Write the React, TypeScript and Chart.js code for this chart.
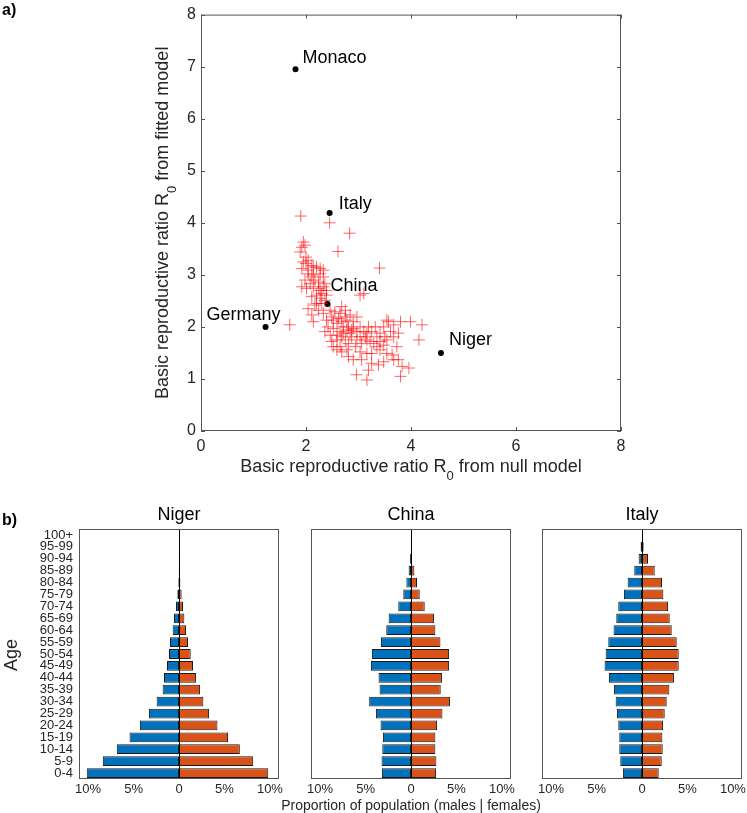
import React, { useEffect, useRef } from "react";
import { Chart, registerables } from "chart.js";

Chart.register(...registerables);

const FONT = "'Liberation Sans', Arial, Helvetica, sans-serif";
const TXT = "#262626";
const BOX = "#555555";

// ---------- Panel a) data ----------
const nullR0 = [
  1.9, 2.45, 2.83, 2.61, 3.4, 1.95, 1.92, 1.98, 1.89, 2.0, 2.0, 1.92, 2.11, 2.2, 2.04, 2.27, 2.33, 2.14,
  1.98, 2.08, 2.01, 1.92, 2.14, 2.24, 2.33, 2.39, 2.3, 2.2, 2.11, 2.27, 2.36, 3.1, 3.03, 2.04, 2.17, 2.24,
  2.11, 2.33, 2.39, 2.14, 2.68, 2.75, 2.65, 2.84, 2.78, 2.9, 2.97, 2.59, 2.71, 2.52, 2.65, 2.78, 2.84, 2.9,
  3.03, 3.1, 3.19, 3.25, 2.68, 2.75, 2.59, 2.49, 2.81, 2.97, 3.06, 3.16, 3.29, 3.41, 3.54, 3.67, 3.61, 3.48,
  3.57, 3.67, 3.8, 3.99, 4.21, 4.15, 3.76, 2.59, 2.78, 2.94, 2.9, 3.06, 3.16, 3.25, 3.41, 3.54, 3.64, 3.38,
  3.67, 3.76, 3.96, 3.83, 3.8, 2.96, 3.16, 3.19, 1.69,
  2.46, 2.49, 2.55, 2.42, 2.36, 2.46, 2.59, 2.71, 2.87, 3.03, 3.13, 3.41, 3.48, 3.35, 2.65, 2.81, 3.03, 3.54,
  3.32, 2.17, 2.24, 2.11, 2.04, 1.95, 2.04, 2.14, 2.27, 2.33, 2.36, 2.27, 2.39, 2.3, 2.2, 2.52, 2.62, 2.68,
  2.75, 2.81, 2.87, 2.97, 3.16, 3.22, 3.35, 3.5, 3.73, 3.25, 3.48, 2.68, 2.52,
];
const fittedR0 = [
  4.13, 4.0, 3.8, 3.45, 3.13, 3.63, 3.53, 3.57, 3.44, 3.34, 3.22, 3.12, 3.18, 3.15, 3.09, 3.02, 3.09, 3.0,
  2.9, 2.83, 2.74, 2.77, 2.77, 2.74, 2.77, 2.7, 2.64, 2.61, 2.58, 2.55, 2.51, 2.64, 2.61, 2.35, 2.42, 2.32,
  2.23, 2.26, 2.13, 2.1, 2.39, 2.32, 2.26, 2.23, 2.13, 2.1, 2.19, 2.07, 2.0, 1.97, 1.91, 1.94, 1.88, 1.97,
  2.0, 1.91, 2.0, 1.91, 1.81, 1.75, 1.75, 1.72, 1.68, 1.75, 1.68, 1.75, 1.68, 1.72, 1.75, 1.81, 1.91, 2.0,
  2.1, 2.04, 2.1, 2.1, 2.04, 1.75, 1.88, 1.56, 1.56, 1.62, 1.37, 1.37, 1.49, 1.3, 1.56, 1.49, 1.46, 1.27,
  1.37, 1.37, 1.21, 1.24, 1.05, 1.08, 0.98, 1.17, 2.04,
  2.32, 2.19, 2.29, 2.0, 1.91, 1.84, 1.84, 1.88, 1.81, 1.81, 1.81, 1.88, 1.65, 1.62, 1.62, 1.43, 1.52, 2.13,
  2.0, 2.9, 2.86, 2.96, 3.02, 3.25, 3.28, 3.15, 3.12, 2.96, 2.83, 2.7, 2.61, 2.45, 2.45, 2.13, 2.16, 2.1,
  2.19, 2.0, 1.94, 1.91, 1.88, 1.72, 1.81, 1.81, 1.62, 1.49, 1.33, 1.52, 1.62,
];
const namedCountries = ["Monaco", "Italy", "China", "Germany", "Niger"];
const namedNull = [1.8, 2.45, 2.41, 1.23, 4.57];
const namedFitted = [6.95, 4.19, 2.44, 2.0, 1.5];
const r0Ticks = [0, 1, 2, 3, 4, 5, 6, 7, 8];
const r0XTicks = [0, 2, 4, 6, 8];

// label placement (style only)
const labelPlace = [
  { dx: 7, dy: -11, align: "left" },
  { dx: 9, dy: -9, align: "left" },
  { dx: 3, dy: -18, align: "left" },
  { dx: 15, dy: -12, align: "right" },
  { dx: 8, dy: -13, align: "left" },
];

// ---------- Panel b) data (percent of population) ----------
const ageGroups = [
  "0-4", "5-9", "10-14", "15-19", "20-24", "25-29", "30-34", "35-39", "40-44", "45-49", "50-54",
  "55-59", "60-64", "65-69", "70-74", "75-79", "80-84", "85-89", "90-94", "95-99", "100+",
];
const nigerMales = [10.15, 8.38, 6.84, 5.44, 4.3, 3.31, 2.46, 1.8, 1.65, 1.32, 1.1, 0.99, 0.7, 0.55, 0.33, 0.18, 0.07, 0.03, 0.01, 0, 0];
const nigerFemales = [9.82, 8.16, 6.69, 5.4, 4.23, 3.31, 2.68, 2.32, 1.88, 1.54, 1.29, 0.99, 0.77, 0.59, 0.44, 0.29, 0.15, 0.04, 0.01, 0, 0];
const chinaMales = [3.2, 3.24, 3.16, 3.09, 3.35, 3.86, 4.6, 3.46, 3.57, 4.41, 4.3, 3.31, 2.72, 2.46, 1.4, 0.85, 0.51, 0.26, 0.1, 0.02, 0];
const chinaFemales = [2.76, 2.79, 2.68, 2.68, 2.87, 3.46, 4.3, 3.27, 3.42, 4.19, 4.19, 3.24, 2.68, 2.54, 1.51, 0.96, 0.66, 0.37, 0.12, 0.03, 0];
const italyMales = [2.1, 2.39, 2.5, 2.5, 2.61, 2.76, 2.9, 3.09, 3.64, 4.12, 4.0, 3.71, 3.13, 2.83, 2.61, 1.99, 1.58, 0.85, 0.37, 0.15, 0.01];
const italyFemales = [1.84, 2.17, 2.28, 2.24, 2.32, 2.5, 2.72, 3.01, 3.53, 4.04, 4.04, 3.82, 3.27, 3.05, 2.87, 2.35, 2.2, 1.4, 0.66, 0.18, 0.03];
const pctTicks = [-10, -5, 0, 5, 10];

const MALE = "#0072BD";
const FEMALE = "#D95319";

function drawSubscriptText(
  ctx: CanvasRenderingContext2D,
  pre: string,
  sub: string,
  post: string,
  cx: number,
  cy: number,
  rotate: boolean,
  size: number
) {
  ctx.save();
  ctx.translate(cx, cy);
  if (rotate) ctx.rotate(-Math.PI / 2);
  const main = `${size}px ${FONT}`;
  const small = `${Math.round(size * 0.72)}px ${FONT}`;
  ctx.font = main;
  const w1 = ctx.measureText(pre).width;
  const w3 = ctx.measureText(post).width;
  ctx.font = small;
  const w2 = ctx.measureText(sub).width;
  let x = -(w1 + w2 + w3) / 2;
  ctx.fillStyle = TXT;
  ctx.textBaseline = "middle";
  ctx.textAlign = "left";
  ctx.font = main;
  ctx.fillText(pre, x, 0);
  x += w1;
  ctx.font = small;
  ctx.fillText(sub, x, size * 0.55);
  x += w2;
  ctx.font = main;
  ctx.fillText(post, x, 0);
  ctx.restore();
}

const topDecor = {
  id: "topDecor",
  beforeDatasetsDraw(chart: any) {
    const { ctx, chartArea: a, scales } = chart;
    const x = scales.x;
    const y = scales.y;
    ctx.save();
    ctx.strokeStyle = BOX;
    ctx.lineWidth = 1;
    ctx.strokeRect(a.left + 0.5, a.top + 0.5, a.right - a.left - 1, a.bottom - a.top - 1);
    ctx.beginPath();
    r0XTicks.forEach((v) => {
      const px = Math.round(x.getPixelForValue(v)) + 0.5;
      ctx.moveTo(px, a.bottom);
      ctx.lineTo(px, a.bottom - 4);
      ctx.moveTo(px, a.top);
      ctx.lineTo(px, a.top + 4);
    });
    r0Ticks.forEach((v) => {
      const py = Math.round(y.getPixelForValue(v)) + 0.5;
      ctx.moveTo(a.left, py);
      ctx.lineTo(a.left + 4, py);
      ctx.moveTo(a.right, py);
      ctx.lineTo(a.right - 4, py);
    });
    ctx.stroke();
    ctx.restore();
  },
  afterDraw(chart: any) {
    const { ctx, chartArea: a, scales } = chart;
    const x = scales.x;
    const y = scales.y;
    drawSubscriptText(ctx, "Basic reproductive ratio R", "0", " from null model", (a.left + a.right) / 2, 467, false, 18);
    drawSubscriptText(ctx, "Basic reproductive ratio R", "0", " from fitted model", 163, (a.top + a.bottom) / 2, true, 18);
    ctx.save();
    ctx.fillStyle = "#000";
    ctx.font = `18px ${FONT}`;
    ctx.textBaseline = "middle";
    namedCountries.forEach((name, i) => {
      const px = x.getPixelForValue(namedNull[i]);
      const py = y.getPixelForValue(namedFitted[i]);
      const p = labelPlace[i];
      ctx.textAlign = p.align as CanvasTextAlign;
      ctx.fillText(name, px + p.dx, py + p.dy);
    });
    ctx.restore();
  },
};

function TopChart() {
  const ref = useRef<HTMLCanvasElement>(null);
  useEffect(() => {
    const chart = new Chart(ref.current as HTMLCanvasElement, {
      type: "scatter",
      data: {
        datasets: [
          {
            data: nullR0.map((v, i) => ({ x: v, y: fittedR0[i] })),
            pointStyle: "cross",
            radius: 6,
            borderColor: "rgba(255,0,0,0.6)",
            backgroundColor: "rgba(255,0,0,0.6)",
            borderWidth: 1,
          },
          {
            data: namedNull.map((v, i) => ({ x: v, y: namedFitted[i] })),
            pointStyle: "circle",
            radius: 3,
            backgroundColor: "#000",
            borderColor: "#000",
            borderWidth: 0,
          },
        ],
      },
      options: {
        responsive: false,
        animation: false,
        devicePixelRatio: 1,
        events: [],
        layout: { padding: { top: 14, right: 126, left: 0, bottom: 0 } },
        plugins: { legend: { display: false }, tooltip: { enabled: false } },
        scales: {
          x: {
            type: "linear",
            min: 0,
            max: 8,
            afterBuildTicks: (s: any) => {
              s.ticks = r0XTicks.map((v) => ({ value: v }));
            },
            afterFit: (s: any) => {
              s.height = 49;
            },
            grid: { display: false, drawTicks: false },
            border: { display: false },
            ticks: { padding: 6, color: TXT, font: { family: FONT, size: 16 }, maxRotation: 0 },
          },
          y: {
            type: "linear",
            min: 0,
            max: 8,
            afterBuildTicks: (s: any) => {
              s.ticks = r0Ticks.map((v) => ({ value: v }));
            },
            afterFit: (s: any) => {
              s.width = 201;
            },
            grid: { display: false, drawTicks: false },
            border: { display: false },
            ticks: { padding: 5, color: TXT, font: { family: FONT, size: 16 } },
          },
        },
      } as any,
      plugins: [topDecor],
    });
    return () => chart.destroy();
  }, []);
  return <canvas ref={ref} width={747} height={480} style={{ position: "absolute", left: 0, top: 0 }} />;
}

function Pyramid(props: {
  title: string;
  males: number[];
  females: number[];
  left: number;
  width: number;
  plotLeft: number;
  plotRight: number;
  showAges: boolean;
}) {
  const ref = useRef<HTMLCanvasElement>(null);
  const { title, males, females, left, width, plotLeft, plotRight, showAges } = props;
  useEffect(() => {
    const deco = {
      id: "pyrDecor",
      afterDatasetsDraw(chart: any) {
        const { ctx, chartArea: a, scales } = chart;
        const xs = scales.x;
        const px0 = Math.round(xs.getPixelForValue(0)) + 0.5;
        ctx.save();
        ctx.strokeStyle = "#000";
        ctx.lineWidth = 1;
        ctx.beginPath();
        ctx.moveTo(px0, a.top);
        ctx.lineTo(px0, a.bottom);
        ctx.stroke();
        ctx.strokeStyle = BOX;
        ctx.strokeRect(a.left + 0.5, a.top + 0.5, a.right - a.left - 1, a.bottom - a.top - 1);
        // x tick labels
        ctx.fillStyle = TXT;
        ctx.font = `13px ${FONT}`;
        ctx.textAlign = "center";
        ctx.textBaseline = "middle";
        pctTicks.forEach((v) => {
          const label = v === 0 ? "0" : `${Math.abs(v)}%`;
          ctx.fillText(label, xs.getPixelForValue(v), a.bottom + 10);
        });
        // title
        ctx.fillStyle = "#000";
        ctx.font = `18px ${FONT}`;
        ctx.fillText(title, (a.left + a.right) / 2, 25);
        if (showAges) {
          ctx.translate(12, 165);
          ctx.rotate(-Math.PI / 2);
          ctx.fillStyle = TXT;
          ctx.fillText("Age", 0, 0);
        }
        ctx.restore();
      },
    };
    const chart = new Chart(ref.current as HTMLCanvasElement, {
      type: "bar",
      data: {
        labels: ageGroups,
        datasets: [
          {
            label: "Males",
            data: males.map((v) => -v),
            backgroundColor: MALE,
            borderColor: "#1a1a1a",
            borderWidth: 1,
            borderSkipped: false,
            barPercentage: 0.82,
            categoryPercentage: 1,
          },
          {
            label: "Females",
            data: females,
            backgroundColor: FEMALE,
            borderColor: "#1a1a1a",
            borderWidth: 1,
            borderSkipped: false,
            barPercentage: 0.82,
            categoryPercentage: 1,
          },
        ],
      },
      options: {
        indexAxis: "y",
        responsive: false,
        animation: false,
        devicePixelRatio: 1,
        events: [],
        layout: { padding: { top: 39, right: width - plotRight, left: 0, bottom: 0 } },
        plugins: { legend: { display: false }, tooltip: { enabled: false } },
        scales: {
          x: {
            type: "linear",
            min: -11,
            max: 11,
            stacked: true,
            afterBuildTicks: (s: any) => {
              s.ticks = pctTicks.map((v) => ({ value: v }));
            },
            afterFit: (s: any) => {
              s.height = 34;
            },
            grid: { display: false, drawTicks: false },
            border: { display: false },
            ticks: { display: false },
          },
          y: {
            type: "category",
            stacked: true,
            reverse: true,
            afterFit: (s: any) => {
              s.width = plotLeft;
            },
            grid: { display: false, drawTicks: false },
            border: { display: false },
            ticks: { display: showAges, padding: 6, color: TXT, font: { family: FONT, size: 13 }, autoSkip: false },
          },
        },
      } as any,
      plugins: [deco],
    });
    return () => chart.destroy();
  }, []);
  return <canvas ref={ref} width={width} height={323} style={{ position: "absolute", left, top: 490 }} />;
}

export default function App() {
  return (
    <div style={{ position: "absolute", left: 0, top: 0, width: 747, height: 813, background: "#fff", overflow: "hidden" }}>
      <TopChart />
      <Pyramid title="Niger" males={nigerMales} females={nigerFemales} left={0} width={288} plotLeft={79} plotRight={279} showAges={true} />
      <Pyramid title="China" males={chinaMales} females={chinaFemales} left={290} width={228} plotLeft={21} plotRight={221} showAges={false} />
      <Pyramid title="Italy" males={italyMales} females={italyFemales} left={519} width={228} plotLeft={23} plotRight={223} showAges={false} />
      <div style={{ position: "absolute", left: 2, top: 1, font: `bold 16px ${FONT}`, color: "#000" }}>a)</div>
      <div style={{ position: "absolute", left: 2, top: 511, font: `bold 16px ${FONT}`, color: "#000" }}>b)</div>
      <div
        style={{
          position: "absolute",
          left: 411,
          top: 797,
          transform: "translateX(-50%)",
          whiteSpace: "nowrap",
          font: `14px ${FONT}`,
          lineHeight: "16px",
          color: TXT,
        }}
      >
        Proportion of population (males | females)
      </div>
    </div>
  );
}
